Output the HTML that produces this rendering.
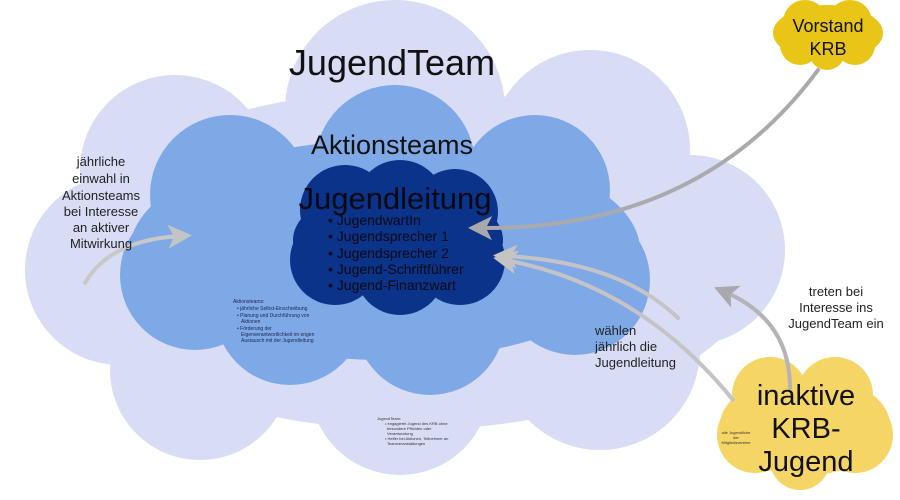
<!DOCTYPE html>
<html><head><meta charset="utf-8"><style>
html,body{margin:0;padding:0;background:#fff;width:900px;height:500px;overflow:hidden}
svg{display:block}
text{font-family:"Liberation Sans",sans-serif}
</style></head><body>
<svg width="900" height="500" viewBox="0 0 900 500">
<defs>
<marker id="ah" markerWidth="6" markerHeight="6" refX="3" refY="3" orient="auto" markerUnits="strokeWidth">
<path d="M0,0 L6,3 L0,6 L1.5,3 Z" fill="#c4c4c4"/></marker>
<marker id="ah2" markerWidth="6" markerHeight="6" refX="3" refY="3" orient="auto" markerUnits="strokeWidth">
<path d="M0,0 L6,3 L0,6 L1.5,3 Z" fill="#a9a9ad"/></marker>
</defs>
<g fill="#d9dcf5">
<ellipse cx="410" cy="260" rx="350" ry="170"/>
<circle cx="175" cy="170" r="95"/>
<circle cx="395" cy="110" r="110"/>
<circle cx="590" cy="150" r="100"/>
<circle cx="690" cy="250" r="95"/>
<circle cx="120" cy="270" r="95"/>
<circle cx="200" cy="370" r="90"/>
<circle cx="400" cy="385" r="90"/>
<circle cx="600" cy="350" r="100"/>
</g>
<g fill="#7fa9e6">
<ellipse cx="385" cy="250" rx="255" ry="110"/>
<circle cx="230" cy="195" r="80"/>
<circle cx="395" cy="165" r="80"/>
<circle cx="535" cy="190" r="75"/>
<circle cx="195" cy="275" r="75"/>
<circle cx="290" cy="310" r="75"/>
<circle cx="430" cy="320" r="75"/>
<circle cx="575" cy="280" r="75"/>
</g>
<g fill="#0b3389">
<ellipse cx="398" cy="240" rx="105" ry="55"/>
<circle cx="345" cy="210" r="45"/>
<circle cx="400" cy="205" r="45"/>
<circle cx="455" cy="212" r="43"/>
<circle cx="335" cy="260" r="45"/>
<circle cx="400" cy="270" r="45"/>
<circle cx="460" cy="260" r="45"/>
</g>
<g fill="#e8c517">
<ellipse cx="828" cy="33" rx="55" ry="28"/>
<circle cx="805" cy="22" r="22"/><circle cx="850" cy="22" r="22"/>
<circle cx="800" cy="45" r="20"/><circle cx="855" cy="45" r="20"/><circle cx="827" cy="52" r="18"/>
</g>
<g fill="#f4d565">
<ellipse cx="805" cy="425" rx="85" ry="50"/>
<circle cx="770" cy="395" r="38"/><circle cx="835" cy="395" r="38"/>
<circle cx="755" cy="435" r="38"/><circle cx="855" cy="435" r="38"/>
<circle cx="800" cy="460" r="30"/>
</g>
<g fill="none" stroke-width="4" stroke-linecap="round">
<path d="M85,283 Q110,240 180,236" stroke="#c8c8c8" marker-end="url(#ah)"/>
<path d="M818,70 Q700,230 480,228" stroke="#aaaaae" marker-end="url(#ah2)"/>
<path d="M678,318 Q620,262 505,256" stroke="#c4c4c6" marker-end="url(#ah)"/>
<path d="M733,400 Q640,285 505,260" stroke="#c4c4c6" marker-end="url(#ah)"/>
<path d="M790,388 Q790,320 725,292" stroke="#b4b4b8" marker-end="url(#ah2)"/>
</g>
<text x="392" y="75" font-size="36" text-anchor="middle" fill="#111">JugendTeam</text>
<text x="392" y="154" font-size="27" text-anchor="middle" fill="#111">Aktionsteams</text>
<text x="395" y="209" font-size="31" text-anchor="middle" fill="#0a0a14">Jugendleitung</text>
<g font-size="14" fill="#0a0a14">
<text x="328" y="225">• JugendwartIn</text>
<text x="328" y="241">• Jugendsprecher 1</text>
<text x="328" y="258">• Jugendsprecher 2</text>
<text x="328" y="274">• Jugend-Schriftführer</text>
<text x="328" y="290">• Jugend-Finanzwart</text>
</g>
<g font-size="13" fill="#222" text-anchor="middle">
<text x="101" y="166">jährliche</text>
<text x="101" y="183">einwahl in</text>
<text x="101" y="200">Aktionsteams</text>
<text x="101" y="216">bei Interesse</text>
<text x="101" y="232">an aktiver</text>
<text x="101" y="248">Mitwirkung</text>
<text x="836" y="296">treten bei</text>
<text x="836" y="312">Interesse ins</text>
<text x="836" y="328">JugendTeam ein</text>
</g>
<g font-size="13" fill="#222">
<text x="595" y="335">wählen</text>
<text x="595" y="351">jährlich die</text>
<text x="595" y="367">Jugendleitung</text>
</g>
<g font-size="18" fill="#111" text-anchor="middle">
<text x="828" y="32">Vorstand</text>
<text x="828" y="55">KRB</text>
</g>
<g font-size="29" fill="#111" text-anchor="middle">
<text x="806" y="405">inaktive</text>
<text x="806" y="438">KRB-</text>
<text x="806" y="471">Jugend</text>
</g>
<g font-size="4" fill="#333" text-anchor="middle">
<text x="736" y="434">alle Jugendliche</text><text x="736" y="439">der</text><text x="736" y="444">Mitgliedsvereine</text>
</g>
<g font-size="5" fill="#1a2550">
<text x="233" y="303">Aktionsteams:</text>
<text x="237" y="310">• jährliche Selbst-Einschreibung</text>
<text x="237" y="317">• Planung und Durchführung von</text>
<text x="241" y="323">Aktionen</text>
<text x="237" y="330">• Förderung der</text>
<text x="241" y="336">Eigenverantwortlichkeit im engen</text>
<text x="241" y="342">Austausch mit der Jugendleitung</text>
</g>
<g font-size="4" fill="#333">
<text x="377" y="420">JugendTeam:</text>
<text x="385" y="425">• engagierte Jugend des KRB ohne</text>
<text x="387" y="430">besondere Pflichten oder</text>
<text x="387" y="435">Verantwortung</text>
<text x="385" y="440">• Helfer bei Aktionen, Teilnehmer an</text>
<text x="387" y="445">Teamveranstaltungen</text>
</g>
</svg>
</body></html>
